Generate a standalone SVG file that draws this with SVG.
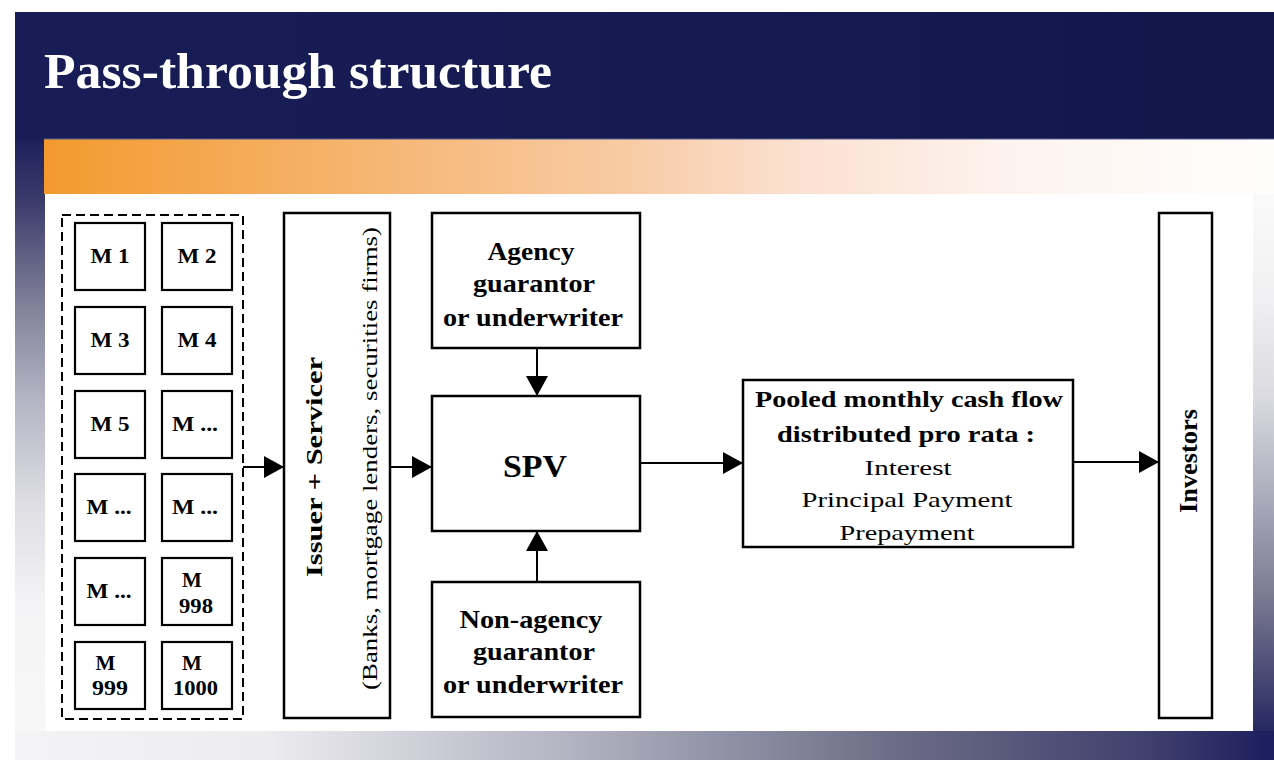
<svg xmlns="http://www.w3.org/2000/svg" width="1274" height="760" viewBox="0 0 1274 760">
  <defs>
    <linearGradient id="gHeader" x1="0" y1="0" x2="1" y2="0">
      <stop offset="0" stop-color="#181d57"/>
      <stop offset="1" stop-color="#12174a"/>
    </linearGradient>
    <linearGradient id="gOrange" x1="44" y1="0" x2="1274" y2="0" gradientUnits="userSpaceOnUse">
      <stop offset="0" stop-color="#f39a2e"/>
      <stop offset="0.29" stop-color="#f6b878"/>
      <stop offset="0.48" stop-color="#f8cca6"/>
      <stop offset="0.61" stop-color="#fbe0d0"/>
      <stop offset="0.78" stop-color="#fdf3ee"/>
      <stop offset="1" stop-color="#fffefd"/>
    </linearGradient>
    <linearGradient id="gLeft" x1="0" y1="139" x2="0" y2="760" gradientUnits="userSpaceOnUse">
      <stop offset="0" stop-color="#1d205b"/>
      <stop offset="0.1" stop-color="#3b3c6c"/>
      <stop offset="0.26" stop-color="#7e7e98"/>
      <stop offset="0.42" stop-color="#b4b4c4"/>
      <stop offset="0.58" stop-color="#dcdce2"/>
      <stop offset="0.75" stop-color="#f4f4f6"/>
      <stop offset="1" stop-color="#f8f8f8"/>
    </linearGradient>
    <linearGradient id="gRight" x1="0" y1="193" x2="0" y2="731" gradientUnits="userSpaceOnUse">
      <stop offset="0" stop-color="#fafafa"/>
      <stop offset="0.2" stop-color="#f0f0f2"/>
      <stop offset="0.38" stop-color="#dadae0"/>
      <stop offset="0.57" stop-color="#aaaabb"/>
      <stop offset="0.75" stop-color="#7a7a92"/>
      <stop offset="0.94" stop-color="#3a3c6c"/>
      <stop offset="1" stop-color="#262962"/>
    </linearGradient>
    <linearGradient id="gBottom" x1="15" y1="0" x2="1274" y2="0" gradientUnits="userSpaceOnUse">
      <stop offset="0" stop-color="#f4f4f6"/>
      <stop offset="0.2" stop-color="#ececef"/>
      <stop offset="0.45" stop-color="#b0b0c0"/>
      <stop offset="0.7" stop-color="#6c6c86"/>
      <stop offset="0.9" stop-color="#40406e"/>
      <stop offset="1" stop-color="#1c1e5e"/>
    </linearGradient>
    <marker id="arrow" viewBox="0 0 20 22" refX="20" refY="11" markerWidth="20" markerHeight="22" markerUnits="userSpaceOnUse" orient="auto">
      <path d="M0,0 L20,11 L0,22 z" fill="#000"/>
    </marker>
    <style>
      .box { fill: #fff; stroke: #000; stroke-width: 2.5; }
      .cell { fill: #fff; stroke: #000; stroke-width: 2.2; }
      .pool { fill: none; stroke: #000; stroke-width: 2; stroke-dasharray: 9 5; }
      .conn { fill: none; stroke: #000; stroke-width: 2; marker-end: url(#arrow); }
      text { font-family: "Liberation Serif", "Times New Roman", serif; fill: #000; }
      .b { font-weight: bold; }
      .m { font-size: 21px; font-weight: bold; text-anchor: middle; }
      .lbl { font-size: 25px; font-weight: bold; text-anchor: middle; }
      .title { font-size: 51px; font-weight: bold; fill: #fff; }
    </style>
  </defs>

  <!-- slide background -->
  <rect x="0" y="0" width="1274" height="760" fill="#fff"/>
  <rect x="15" y="12" width="1259" height="748" fill="url(#gHeader)"/>
  <rect x="15" y="139" width="30" height="621" fill="url(#gLeft)"/>
  <rect x="1253" y="193" width="21" height="538" fill="url(#gRight)"/>
  <rect x="15" y="731" width="1259" height="29" fill="url(#gBottom)"/>
  <rect x="44" y="139" width="1230" height="55" fill="url(#gOrange)"/>
  <rect x="44" y="138.5" width="1230" height="1" fill="#5d6190"/>
  <rect x="45" y="194" width="1208" height="537" fill="#fff"/>

  <text class="title" x="44" y="88" textLength="508" lengthAdjust="spacingAndGlyphs">Pass-through structure</text>

  <!-- mortgage pool -->
  <g id="pool">
    <rect class="pool" x="62" y="215" width="181" height="504"/>
    <g id="m1"><rect class="cell" x="75" y="223" width="70" height="67"/><text class="m" x="110" y="263" textLength="39" lengthAdjust="spacingAndGlyphs">M 1</text></g>
    <g id="m2"><rect class="cell" x="162" y="223" width="70" height="67"/><text class="m" x="197" y="263" textLength="39" lengthAdjust="spacingAndGlyphs">M 2</text></g>
    <g id="m3"><rect class="cell" x="75" y="307" width="70" height="67"/><text class="m" x="110" y="347" textLength="39" lengthAdjust="spacingAndGlyphs">M 3</text></g>
    <g id="m4"><rect class="cell" x="162" y="307" width="70" height="67"/><text class="m" x="197" y="347" textLength="39" lengthAdjust="spacingAndGlyphs">M 4</text></g>
    <g id="m5"><rect class="cell" x="75" y="391" width="70" height="67"/><text class="m" x="110" y="431" textLength="39" lengthAdjust="spacingAndGlyphs">M 5</text></g>
    <g id="m6"><rect class="cell" x="162" y="391" width="70" height="67"/><text class="m" x="195" y="431" textLength="46" lengthAdjust="spacingAndGlyphs">M ...</text></g>
    <g id="m7"><rect class="cell" x="75" y="474" width="70" height="67"/><text class="m" x="109" y="514" textLength="45" lengthAdjust="spacingAndGlyphs">M ...</text></g>
    <g id="m8"><rect class="cell" x="162" y="474" width="70" height="67"/><text class="m" x="195" y="514" textLength="46" lengthAdjust="spacingAndGlyphs">M ...</text></g>
    <g id="m9"><rect class="cell" x="75" y="558" width="70" height="67"/><text class="m" x="109" y="598" textLength="45" lengthAdjust="spacingAndGlyphs">M ...</text></g>
    <g id="m998"><rect class="cell" x="162" y="558" width="70" height="67"/><text class="m" x="192" y="587">M</text><text class="m" x="196" y="613" textLength="34" lengthAdjust="spacingAndGlyphs">998</text></g>
    <g id="m999"><rect class="cell" x="75" y="642" width="70" height="67"/><text class="m" x="105.5" y="670">M</text><text class="m" x="110" y="695" textLength="36" lengthAdjust="spacingAndGlyphs">999</text></g>
    <g id="m1000"><rect class="cell" x="162" y="642" width="70" height="67"/><text class="m" x="192" y="670">M</text><text class="m" x="195.5" y="695" textLength="45" lengthAdjust="spacingAndGlyphs">1000</text></g>
  </g>

  <!-- issuer / servicer -->
  <g id="issuer">
    <rect class="box" x="284" y="213" width="106" height="505"/>
    <text class="b" font-size="24" text-anchor="middle" transform="translate(322,467) rotate(-90)" textLength="220" lengthAdjust="spacingAndGlyphs">Issuer + Servicer</text>
    <text font-size="21" text-anchor="middle" transform="translate(377,458.5) rotate(-90)" textLength="463" lengthAdjust="spacingAndGlyphs">(Banks, mortgage lenders, securities firms)</text>
  </g>

  <g id="agency">
    <rect class="box" x="432" y="213" width="208" height="135"/>
    <text class="lbl" x="531" y="260" textLength="87" lengthAdjust="spacingAndGlyphs">Agency</text>
    <text class="lbl" x="534" y="292" textLength="122" lengthAdjust="spacingAndGlyphs">guarantor</text>
    <text class="lbl" x="533" y="326" textLength="180" lengthAdjust="spacingAndGlyphs">or underwriter</text>
  </g>

  <g id="spv">
    <rect class="box" x="432" y="396" width="208" height="135"/>
    <text class="b" font-size="32" text-anchor="middle" x="535" y="477" textLength="64" lengthAdjust="spacingAndGlyphs">SPV</text>
  </g>

  <g id="nonagency">
    <rect class="box" x="432" y="582" width="208" height="135"/>
    <text class="lbl" x="531" y="628" textLength="143" lengthAdjust="spacingAndGlyphs">Non-agency</text>
    <text class="lbl" x="534" y="660" textLength="122" lengthAdjust="spacingAndGlyphs">guarantor</text>
    <text class="lbl" x="533" y="693" textLength="180" lengthAdjust="spacingAndGlyphs">or underwriter</text>
  </g>

  <g id="cashflow">
    <rect class="box" x="743" y="380" width="330" height="167"/>
    <text class="b" font-size="23" text-anchor="middle" x="909" y="407" textLength="308" lengthAdjust="spacingAndGlyphs">Pooled monthly cash flow</text>
    <text class="b" font-size="23" text-anchor="middle" x="906" y="442" textLength="258" lengthAdjust="spacingAndGlyphs">distributed pro rata :</text>
    <text font-size="22" text-anchor="middle" x="908" y="475" textLength="87" lengthAdjust="spacingAndGlyphs">Interest</text>
    <text font-size="22" text-anchor="middle" x="907" y="507" textLength="211" lengthAdjust="spacingAndGlyphs">Principal Payment</text>
    <text font-size="22" text-anchor="middle" x="907" y="540" textLength="135" lengthAdjust="spacingAndGlyphs">Prepayment</text>
  </g>

  <g id="investors">
    <rect class="box" x="1159" y="213" width="53" height="505"/>
    <text class="b" font-size="26" text-anchor="middle" transform="translate(1197,461) rotate(-90)" textLength="104" lengthAdjust="spacingAndGlyphs">Investors</text>
  </g>

  <!-- flow connectors -->
  <g id="connectors">
    <path class="conn" d="M243,467 H284"/>
    <path class="conn" d="M390,467 H432"/>
    <path class="conn" d="M537,348 V396"/>
    <path class="conn" d="M537,582 V531"/>
    <path class="conn" d="M640,463 H743"/>
    <path class="conn" d="M1073,462 H1159"/>
  </g>
</svg>
